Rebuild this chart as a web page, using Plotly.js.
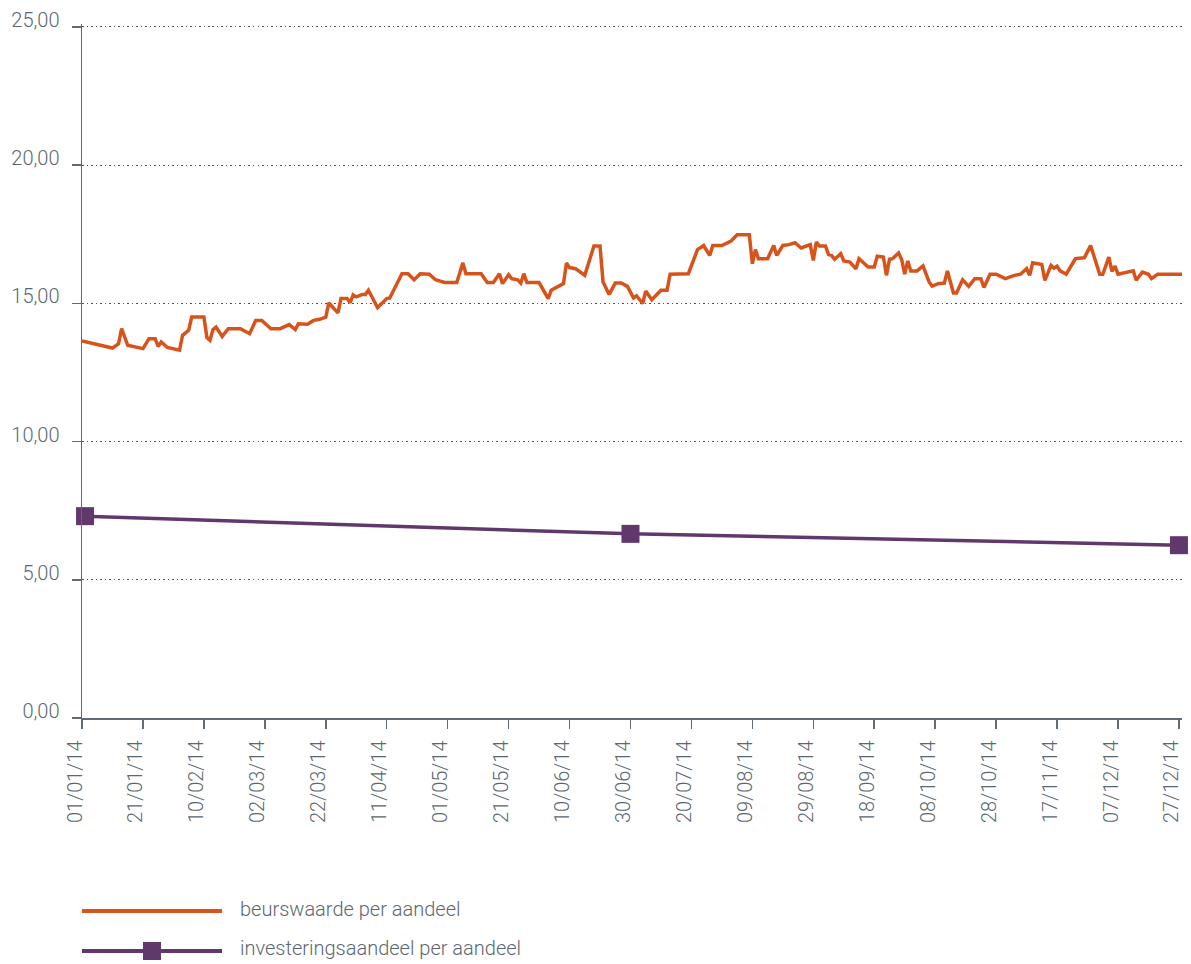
<!DOCTYPE html>
<html>
<head>
<meta charset="utf-8">
<script src="https://cdn.plot.ly/plotly-3.0.1.min.js"></script>
<style>html,body{margin:0;padding:0;background:#fff;}#chart{width:1191px;height:964px;}</style>
</head>
<body>
<div id="chart"></div>
<script>
// beurswaarde per aandeel (daily closing)
var beursDates = [
'2014-01-01','2014-01-11','2014-01-13','2014-01-14','2014-01-16','2014-01-21','2014-01-23','2014-01-25','2014-01-26','2014-01-27','2014-01-29',
'2014-02-02','2014-02-03','2014-02-05','2014-02-06','2014-02-10','2014-02-11','2014-02-12','2014-02-13','2014-02-14','2014-02-16','2014-02-18','2014-02-22','2014-02-25','2014-02-27',
'2014-03-01','2014-03-04','2014-03-07','2014-03-10','2014-03-12','2014-03-13','2014-03-16','2014-03-18','2014-03-20','2014-03-22','2014-03-23','2014-03-26','2014-03-27','2014-03-29','2014-03-30','2014-03-31',
'2014-04-01','2014-04-03','2014-04-04','2014-04-05','2014-04-08','2014-04-11','2014-04-12','2014-04-16','2014-04-18','2014-04-20','2014-04-22','2014-04-25','2014-04-27','2014-04-30',
'2014-05-04','2014-05-06','2014-05-07','2014-05-12','2014-05-14','2014-05-16','2014-05-18','2014-05-19','2014-05-21','2014-05-22','2014-05-24','2014-05-25','2014-05-26','2014-05-27','2014-05-31',
'2014-06-03','2014-06-04','2014-06-08','2014-06-09','2014-06-10','2014-06-12','2014-06-15','2014-06-17','2014-06-18','2014-06-20','2014-06-21','2014-06-23','2014-06-25','2014-06-27','2014-06-29',
'2014-07-01','2014-07-02','2014-07-04','2014-07-05','2014-07-07','2014-07-10','2014-07-12','2014-07-13','2014-07-19','2014-07-22','2014-07-24','2014-07-26','2014-07-27','2014-07-30',
'2014-08-02','2014-08-04','2014-08-08','2014-08-09','2014-08-10','2014-08-11','2014-08-14','2014-08-16','2014-08-17','2014-08-19','2014-08-21','2014-08-23','2014-08-25','2014-08-28','2014-08-29','2014-08-30','2014-08-31',
'2014-09-02','2014-09-03','2014-09-04','2014-09-05','2014-09-07','2014-09-08','2014-09-10','2014-09-12','2014-09-13','2014-09-16','2014-09-18','2014-09-19','2014-09-21','2014-09-22','2014-09-23','2014-09-24','2014-09-26','2014-09-27','2014-09-28','2014-09-29','2014-09-30',
'2014-10-02','2014-10-04','2014-10-06','2014-10-07','2014-10-09','2014-10-11','2014-10-12','2014-10-14','2014-10-15','2014-10-17','2014-10-19','2014-10-21','2014-10-23','2014-10-24','2014-10-26','2014-10-28','2014-10-31',
'2014-11-03','2014-11-05','2014-11-07','2014-11-08','2014-11-09','2014-11-12','2014-11-13','2014-11-15','2014-11-16','2014-11-17','2014-11-18','2014-11-20','2014-11-23','2014-11-26','2014-11-28',
'2014-12-01','2014-12-02','2014-12-04','2014-12-05','2014-12-06','2014-12-07','2014-12-12','2014-12-13','2014-12-15','2014-12-17','2014-12-18','2014-12-20','2014-12-28'
];
var beursValues = [
13.64,13.38,13.54,14.08,13.48,13.36,13.72,13.72,13.44,13.60,13.40,
13.30,13.84,14.02,14.50,14.50,13.76,13.66,14.05,14.14,13.80,14.08,14.08,13.90,14.38,
14.38,14.08,14.08,14.23,14.05,14.26,14.24,14.38,14.42,14.50,15.01,14.65,15.17,15.17,15.02,15.30,
15.23,15.32,15.32,15.47,14.84,15.17,15.19,16.07,16.07,15.85,16.07,16.05,15.85,15.75,
15.75,16.46,16.07,16.07,15.75,15.75,16.07,15.71,16.03,15.89,15.85,15.73,16.07,15.75,15.75,
15.17,15.47,15.71,16.46,16.29,16.25,16.01,16.79,17.07,17.07,15.77,15.32,15.73,15.73,15.61,
15.19,15.27,14.99,15.44,15.13,15.47,15.47,16.05,16.07,16.94,17.09,16.73,17.09,17.09,
17.25,17.48,17.48,16.43,16.94,16.61,16.61,17.09,16.73,17.09,17.12,17.19,17.00,17.12,16.55,17.21,17.07,
17.07,16.76,16.73,16.59,16.79,16.53,16.49,16.25,16.61,16.31,16.31,16.70,16.67,16.01,16.59,16.61,16.82,16.58,16.05,16.53,16.17,
16.17,16.35,15.77,15.62,15.71,15.73,16.17,15.37,15.37,15.85,15.61,15.89,15.89,15.57,16.05,16.05,15.89,
16.01,16.05,16.25,16.01,16.46,16.40,15.83,16.37,16.27,16.34,16.17,16.05,16.61,16.65,17.09,
16.05,16.05,16.67,16.15,16.34,16.05,16.17,15.83,16.13,16.05,15.89,16.05,16.05
];

// investeringsaandeel per aandeel
var invDates = ['2014-01-02','2014-06-30','2014-12-27'];
var invValues = [7.30, 6.66, 6.25];

var seriesNames = ['beurswaarde per aandeel','investeringsaandeel per aandeel'];
var yTicks = [0,5,10,15,20,25];

var ORANGE = '#d8531b';
var PURPLE = '#61386c';
var TEXT = '#5b6770';
var AXIS = '#5f6c76';
var FONT = 'Roboto, "Open Sans", sans-serif';

var traces = [
  {x: beursDates, y: beursValues, type:'scatter', mode:'lines', name: seriesNames[0],
   line:{color:ORANGE, width:3.5}},
  {x: invDates, y: invValues, type:'scatter', mode:'lines+markers', name: seriesNames[1],
   line:{color:PURPLE, width:3.5}, marker:{symbol:'square', size:18, color:PURPLE}, cliponaxis:false}
];

var W = 1100, H = 694, L = 82, T = 24;
function px2paperX(px){ return (px - L)/W; }
function px2paperY(py){ return (T + H - py)/H; }

var layout = {
  width:1191, height:964,
  margin:{l:L, r:1191-L-W, t:T, b:964-T-H, pad:0},
  paper_bgcolor:'#ffffff', plot_bgcolor:'#ffffff',
  separators:',.',
  showlegend:false,
  font:{family:FONT, color:TEXT, size:20, weight:300},
  xaxis:{
    type:'date', range:['2014-01-01','2014-12-28'],
    tick0:'2014-01-01', dtick:20*86400000, tickformat:'%d/%m/%y',
    tickangle:-90, ticks:'outside', ticklen:9, tickwidth:1.5, tickcolor:AXIS,
    showline:true, linecolor:AXIS, linewidth:1.5,
    showgrid:false, zeroline:false,
    tickfont:{family:FONT, size:20, color:TEXT, weight:300},
    ticklabelshift:-7, ticklabelstandoff:4
  },
  yaxis:{
    range:[0,25.1], tickvals:yTicks, tickformat:'.2f',
    ticks:'outside', ticklen:9, tickwidth:1.5, tickcolor:AXIS,
    showline:true, linecolor:AXIS, linewidth:1.5,
    showgrid:true, gridcolor:'#4a5560', gridwidth:1, griddash:'1.5px,3px',
    zeroline:false,
    tickfont:{family:FONT, size:20, color:TEXT, weight:300},
    ticklabelshift:-7, ticklabelstandoff:8
  },
  shapes:[
    {type:'line', xref:'paper', yref:'paper', x0:px2paperX(82), x1:px2paperX(222), y0:px2paperY(911), y1:px2paperY(911),
     line:{color:ORANGE, width:4}},
    {type:'line', xref:'paper', yref:'paper', x0:px2paperX(82), x1:px2paperX(222), y0:px2paperY(951), y1:px2paperY(951),
     line:{color:PURPLE, width:4}},
    {type:'rect', xref:'paper', yref:'paper', xsizemode:'pixel', ysizemode:'pixel',
     xanchor:px2paperX(152), yanchor:px2paperY(951), x0:-9, x1:9, y0:-9, y1:9,
     fillcolor:PURPLE, line:{width:0}}
  ],
  annotations:[
    {xref:'paper', yref:'paper', x:px2paperX(238), y:px2paperY(909), xanchor:'left', yanchor:'middle',
     text:seriesNames[0], showarrow:false, font:{family:FONT, size:20, color:TEXT, weight:300}},
    {xref:'paper', yref:'paper', x:px2paperX(238), y:px2paperY(948), xanchor:'left', yanchor:'middle',
     text:seriesNames[1], showarrow:false, font:{family:FONT, size:20, color:TEXT, weight:300}}
  ]
};

Plotly.newPlot('chart', traces, layout, {displayModeBar:false, staticPlot:true});
</script>
</body>
</html>
